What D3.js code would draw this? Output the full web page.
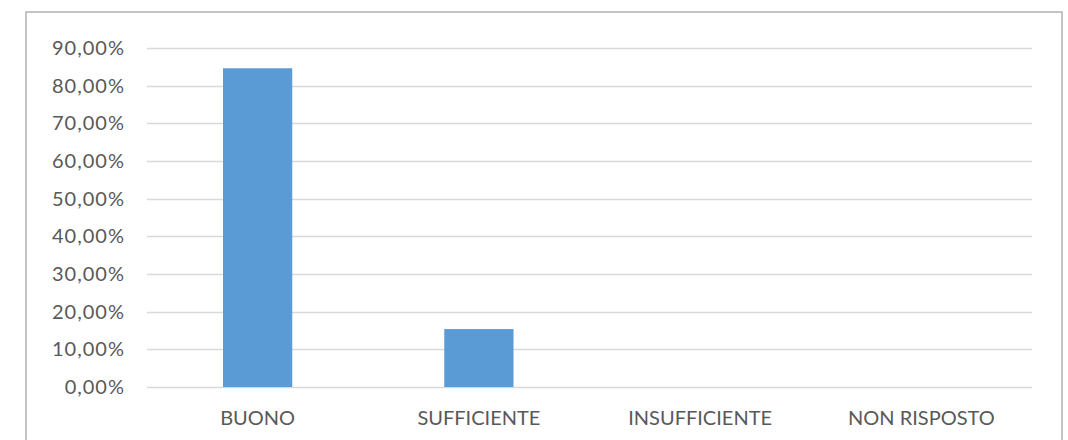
<!DOCTYPE html>
<html><head><meta charset="utf-8">
<script src="https://cdn.jsdelivr.net/npm/d3@7"></script>
<style>body{margin:0;background:#fff}svg{display:block}</style>
</head><body>
<script>
const categories = ["BUONO","SUFFICIENTE","INSUFFICIENTE","NON RISPOSTO"];
const values = [0.8462, 0.1538, 0, 0];
const yTicks = [0,0.1,0.2,0.3,0.4,0.5,0.6,0.7,0.8,0.9];

const W=1068,H=440;
const svg=d3.select("body").append("svg").attr("width",W).attr("height",H);
svg.append("rect").attr("x",26).attr("y",12).attr("width",1036).attr("height",460)
  .attr("fill","#fff").attr("stroke","#a6a6a6").attr("stroke-width",1.3);

const x=d3.scaleBand().domain(categories).range([147,1032]).paddingInner(0.687).paddingOuter(0.3435);
const y=d3.scaleLinear().domain([0,0.9]).range([387,48]);
const fmt=v=>(v*100).toFixed(2).replace(".",",")+"%";
const font="Lato, 'Open Sans', sans-serif";

svg.append("g").selectAll("line").data(yTicks).join("line")
  .attr("x1",147).attr("x2",1032).attr("y1",d=>Math.round(y(d))+0.5).attr("y2",d=>Math.round(y(d))+0.5)
  .attr("stroke","#d9d9d9").attr("stroke-width",1.3);

svg.append("g").selectAll("rect").data(categories).join("rect")
  .attr("x",d=>x(d)).attr("width",x.bandwidth())
  .attr("y",(d,i)=>y(values[i])).attr("height",(d,i)=>y(0)-y(values[i]))
  .attr("fill","#5b9bd5");

svg.append("g").selectAll("text").data(yTicks).join("text")
  .attr("x",125).attr("y",d=>y(d)).attr("dy","0.35em").attr("text-anchor","end")
  .attr("font-family",font).attr("font-size",20).attr("letter-spacing",1).attr("fill","#595959").text(fmt);

svg.append("g").selectAll("text").data(categories).join("text")
  .attr("x",d=>x(d)+x.bandwidth()/2).attr("y",425).attr("text-anchor","middle")
  .attr("font-family",font).attr("font-size",20).attr("fill","#595959").text(d=>d);
</script>
</body></html>
